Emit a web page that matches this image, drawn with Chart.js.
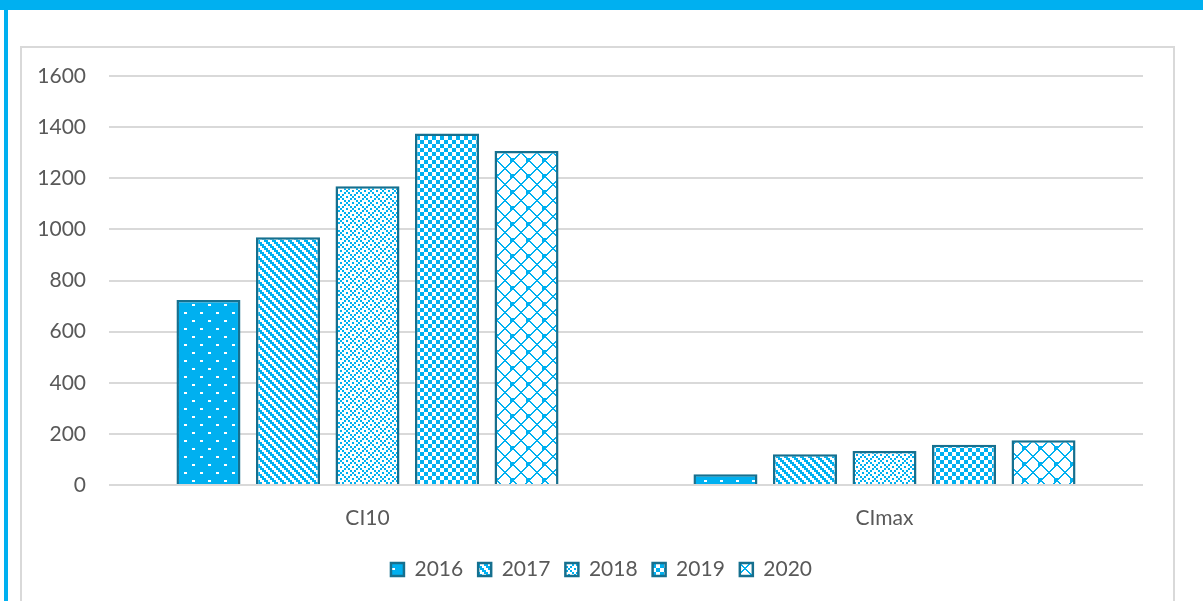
<!DOCTYPE html>
<html>
<head>
<meta charset="utf-8">
<script src="https://cdn.jsdelivr.net/npm/chart.js@4.4.1/dist/chart.umd.min.js"></script>
<style>
  html, body { margin: 0; padding: 0; background: #fff; }
  body { width: 1203px; height: 601px; position: relative; overflow: hidden; }
  #topBand { position: absolute; left: 0; top: 0; width: 1203px; height: 10px; background: #00B0F0; }
  #leftBand { position: absolute; left: 4px; top: 0; width: 4px; height: 601px; background: #00B0F0; }
  #frame { position: absolute; left: 20px; top: 46px; width: 1151px; height: 600px;
           border: 2px solid #D9D9D9; border-bottom: none; }
  #wrap { position: absolute; left: 0; top: 0; width: 1203px; height: 601px; }
</style>
</head>
<body>
<div id="topBand"></div>
<div id="leftBand"></div>
<div id="frame"></div>
<div id="wrap"><canvas id="myChart"></canvas></div>
<script>
var categories = ['CI10', 'CImax'];
var years = ['2016', '2017', '2018', '2019', '2020'];
var v2016 = [724, 42];
var v2017 = [969, 120];
var v2018 = [1169, 133];
var v2019 = [1375, 157];
var v2020 = [1307, 175];
var yTicks = [0, 200, 400, 600, 800, 1000, 1200, 1400, 1600];

var blue = '#00B0F0';
var edge = '#16708F';
var textColor = '#595959';

// little tile canvases turned into fill patterns
function makePattern(w, h, isBlue) {
  var c = document.createElement('canvas');
  c.width = w; c.height = h;
  var g = c.getContext('2d');
  g.fillStyle = '#fff';
  g.fillRect(0, 0, w, h);
  g.fillStyle = blue;
  for (var y = 0; y < h; y++) {
    for (var x = 0; x < w; x++) {
      if (isBlue(x, y)) g.fillRect(x, y, 1, 1);
    }
  }
  return document.createElement('canvas').getContext('2d').createPattern(c, 'repeat');
}

var pat2016 = makePattern(16, 16, function(x, y) {
  // blue with small white dots
  if (y < 2 && x < 3) return false;
  if (y >= 8 && y < 10 && x >= 8 && x < 11) return false;
  return true;
});
var pat2017 = makePattern(8, 8, function(x, y) {
  return ((x - 2 * Math.floor(y / 2) + 16) % 8) < 4;
});
var pat2018 = makePattern(12, 12, function(x, y) {
  var cx = Math.floor(x / 2), cy = Math.floor(y / 2);
  if (cx % 3 === 2 && cy % 3 === 2) return true;
  if (cx % 3 === 2 || cy % 3 === 2) return false;
  return (cx + cy) % 2 === 0;
});
var pat2019 = makePattern(8, 8, function(x, y) {
  return (Math.floor(x / 4) + Math.floor(y / 4)) % 2 === 0;
});
var pat2020 = makePattern(16, 16, function(x, y) {
  var a = (x + y) % 16, b = (x - y + 16) % 16;
  if (a < 2 || b < 2) return true;
  if ((x < 2 || x > 13) && (y < 2 || y > 13)) return true;
  return false;
});

var fills = [pat2016, pat2017, pat2018, pat2019, pat2020];
var series = [v2016, v2017, v2018, v2019, v2020];

var datasets = years.map(function(yr, i) {
  return {
    label: yr,
    data: series[i],
    backgroundColor: fills[i],
    borderColor: edge,
    borderWidth: 2.5,
    borderSkipped: 'bottom',
    categoryPercentage: 0.769,
    barPercentage: 0.805
  };
});

Chart.defaults.font.family = 'Lato, "Liberation Sans", sans-serif';
Chart.defaults.font.size = 21;
Chart.defaults.color = textColor;

// centre the legend on the whole page, not just the left part
var legendCentre = {
  id: 'legendCentre',
  afterLayout: function(chart) {
    var lg = chart.legend;
    if (!lg) return;
    lg.left = 0;
    lg.right = chart.width;
    lg.width = chart.width;
  }
};

new Chart('myChart', {
  type: 'bar',
  data: { labels: categories, datasets: datasets },
  plugins: [legendCentre],
  options: {
    responsive: true,
    maintainAspectRatio: false,
    animation: false,
    layout: { padding: { left: 0, right: 60, top: 76, bottom: 11 } },
    plugins: {
      legend: {
        display: true,
        position: 'bottom',
        labels: { boxWidth: 13, boxHeight: 13, padding: 15, color: textColor }
      },
      tooltip: { enabled: false }
    },
    scales: {
      x: {
        grid: { display: false },
        border: { display: false },
        ticks: { padding: 13, color: textColor },
        afterFit: function(s) { s.height = 59; }
      },
      y: {
        min: 0,
        max: 1600,
        afterBuildTicks: function(s) {
          s.ticks = yTicks.map(function(v) { return { value: v }; });
        },
        grid: { color: '#D9D9D9', lineWidth: 2, drawTicks: false },
        border: { display: false },
        ticks: {
          padding: 23,
          color: textColor,
          callback: function(v) { return String(v); }
        },
        afterFit: function(s) { s.width = 109; }
      }
    }
  }
});
</script>
</body>
</html>
